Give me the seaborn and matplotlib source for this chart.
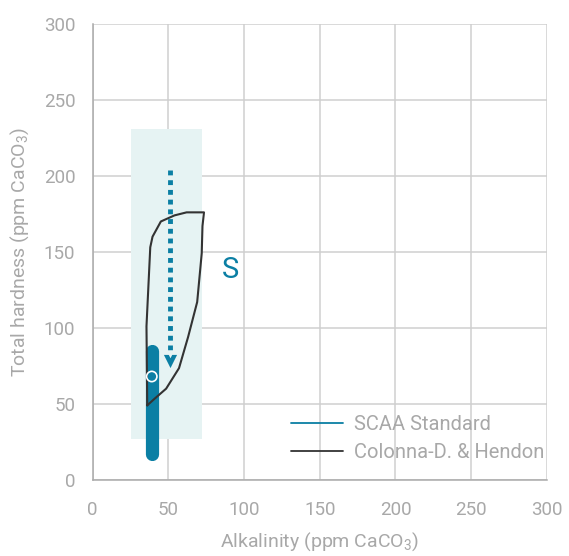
import matplotlib
matplotlib.use("Agg")
import matplotlib.pyplot as plt
import seaborn as sns
import pandas as pd
from matplotlib.lines import Line2D

# SCAA standard: target alkalinity, hardness range and target hardness
scaa_alkalinity = 39
scaa_hardness_range = [17, 85]
scaa_hardness_target = 68

# Wider acceptable zone (shaded)
zone_alkalinity = [25, 72]
zone_hardness = [27, 231]

# Colonna-Dashwood & Hendon region outline
cdh_alkalinity = [36, 35.5, 38, 39.5, 45, 54, 62, 73.5, 72.5, 72, 69, 63, 57, 48.5, 41, 36]
cdh_hardness = [49, 101, 153, 160, 170, 174, 176, 176, 167, 149, 117, 94, 73.5, 60, 53.5, 49]

# Softening arrow
arrow_alkalinity = [51, 51]
arrow_hardness = [204, 80]

ticks = [0, 50, 100, 150, 200, 250, 300]

TEAL = "#0b7fa4"
GRAY_TXT = "#a8a8a8"

sns.set_style("white")
plt.rcParams["font.family"] = ["Roboto", "DejaVu Sans"]
plt.rcParams["mathtext.fontset"] = "custom"
plt.rcParams["mathtext.rm"] = "Roboto"
plt.rcParams["mathtext.it"] = "Roboto"

fig = plt.figure(figsize=(5.69, 5.56), dpi=100)
ax = fig.add_axes([0.163, 0.137, 0.798, 0.82])

ax.fill_between(zone_alkalinity, zone_hardness[0], zone_hardness[1],
                color="#e6f3f3", lw=0, zorder=1)

cdh = pd.DataFrame({"alk": cdh_alkalinity, "hard": cdh_hardness})
sns.lineplot(data=cdh, x="alk", y="hard", sort=False, estimator=None,
             color="#333333", lw=1.5, ax=ax, zorder=4)

scaa = pd.DataFrame({"alk": [scaa_alkalinity] * 2, "hard": scaa_hardness_range})
sns.lineplot(data=scaa, x="alk", y="hard", sort=False, estimator=None,
             color=TEAL, lw=9.5, ax=ax, zorder=3,
             solid_capstyle="round")
ax.scatter([scaa_alkalinity], [scaa_hardness_target], s=55, facecolor="none",
           edgecolor="white", linewidth=1.2, zorder=5)

arr = pd.DataFrame({"alk": arrow_alkalinity, "hard": arrow_hardness})
sns.lineplot(data=arr, x="alk", y="hard", sort=False, estimator=None,
             color=TEAL, lw=3.5, ax=ax, zorder=5,
             linestyle=(0, (1.0, 1.0)), dash_capstyle="butt")
ax.scatter([arrow_alkalinity[1]], [arrow_hardness[1] - 2], marker="v", s=90,
           color=TEAL, zorder=6, linewidth=0)
ax.scatter([arrow_alkalinity[1]], [arrow_hardness[1] + 3], marker="v", s=30,
           color="#e6f3f3", zorder=6.5, linewidth=0)

ax.text(91, 138, "S", color=TEAL, fontsize=21, ha="center", va="center")

ax.set_xlim(0, 300)
ax.set_ylim(0, 300)
ax.set_xticks(ticks)
ax.set_yticks(ticks)
ax.grid(True, color="#cfcfcf", lw=1.1, zorder=0)
ax.set_axisbelow(True)
for s in ["top", "right"]:
    ax.spines[s].set_visible(False)
for s in ["left", "bottom"]:
    ax.spines[s].set_color("#aaaaaa")
    ax.spines[s].set_linewidth(1.1)
ax.tick_params(direction="inout", length=11, width=1.1, color="#aaaaaa",
               labelcolor=GRAY_TXT, labelsize=13.5)
ax.tick_params(axis="x", pad=10)
ax.tick_params(axis="y", pad=7)

ax.set_xlabel(r"Alkalinity (ppm CaCO$_3$)", color=GRAY_TXT, fontsize=14,
              labelpad=8)
ax.set_ylabel(r"Total hardness (ppm CaCO$_3$)", color=GRAY_TXT, fontsize=14,
              labelpad=9)

handles = [Line2D([], [], color=TEAL, lw=1.3), Line2D([], [], color="#333333", lw=1.3)]
leg = ax.legend(handles, ["SCAA Standard", "Colonna-D. & Hendon"], loc="lower right",
                frameon=False, fontsize=14.5, handlelength=2.6, handletextpad=0.55,
                labelspacing=0.45, bbox_to_anchor=(1.035, 0.0))
for t in leg.get_texts():
    t.set_color(GRAY_TXT)

fig.savefig("out.png", dpi=100)
